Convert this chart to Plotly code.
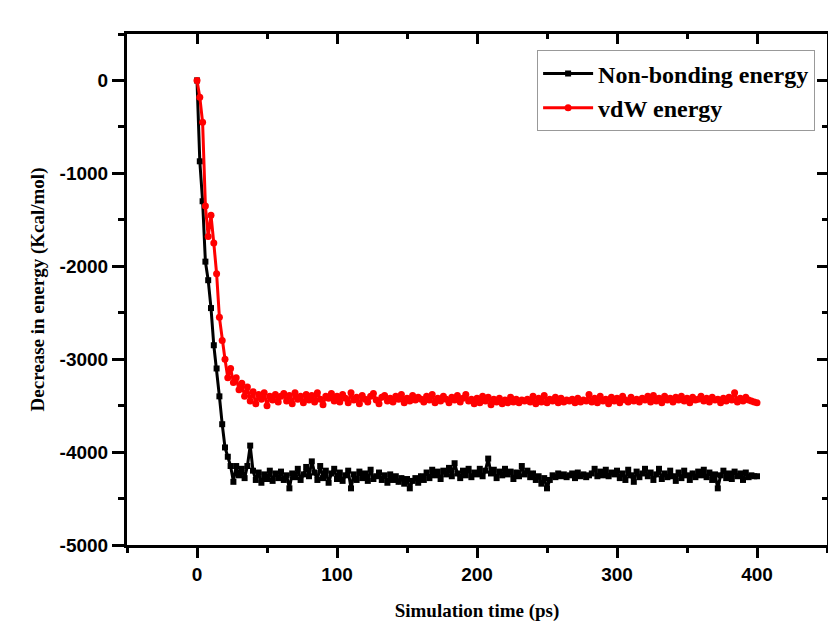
import plotly.graph_objects as go

time_ps = list(range(0, 401, 2))

nonbonding = [
    0, -870, -1300, -1950, -2150, -2450, -2850, -3100, -3400, -3700,
    -3950, -4050, -4150, -4320, -4150, -4250, -4180, -4280, -4150, -3930,
    -4200, -4300, -4220, -4330, -4240, -4290, -4200, -4310, -4230, -4280,
    -4210, -4300, -4250, -4390, -4230, -4270, -4180, -4300, -4240, -4160,
    -4260, -4100, -4220, -4300, -4150, -4280, -4200, -4330, -4230, -4180,
    -4290, -4220, -4310, -4250, -4200, -4390, -4240, -4300, -4210, -4280,
    -4230, -4310, -4190, -4290, -4260, -4220, -4300, -4250, -4330, -4240,
    -4300, -4260, -4320, -4280, -4340, -4290, -4390, -4310, -4280, -4330,
    -4260, -4300, -4220, -4280, -4190, -4250, -4210, -4290, -4200, -4240,
    -4170, -4260, -4120, -4230, -4280, -4200, -4250, -4180, -4270, -4220,
    -4240, -4180, -4260, -4200, -4070, -4230, -4190, -4280, -4210, -4250,
    -4180, -4240, -4210, -4290, -4220, -4260, -4150, -4240, -4200, -4270,
    -4230, -4300, -4260, -4340, -4280, -4390, -4300, -4250, -4270, -4230,
    -4260, -4240, -4270, -4250, -4230, -4280, -4220, -4260, -4240, -4270,
    -4250, -4230, -4180, -4260, -4210, -4250, -4190, -4260, -4220, -4240,
    -4200, -4280, -4230, -4300, -4190, -4250, -4320, -4210, -4270, -4230,
    -4180, -4260, -4220, -4300, -4240, -4180, -4290, -4230, -4270, -4200,
    -4260, -4310, -4220, -4280, -4200, -4250, -4300, -4230, -4270, -4210,
    -4250, -4190, -4270, -4220, -4300, -4240, -4390, -4250, -4200, -4280,
    -4230, -4290, -4210, -4260, -4230, -4300, -4220, -4270, -4250, -4260,
    -4260,
]

vdw = [
    0, -180, -450, -1350, -1680, -1450, -1750, -2080, -2550, -2800,
    -3000, -3200, -3100, -3250, -3200, -3330, -3260, -3400, -3300, -3450,
    -3350, -3480, -3380, -3430, -3360, -3500, -3400, -3440, -3380, -3460,
    -3400, -3370, -3450, -3390, -3480, -3360, -3430, -3400, -3470, -3380,
    -3440, -3390, -3460, -3360, -3430, -3490, -3400, -3420, -3370, -3450,
    -3400, -3460, -3380, -3420, -3470, -3360, -3440, -3410, -3480, -3390,
    -3430, -3460, -3400, -3370, -3440, -3480, -3410, -3390, -3450, -3420,
    -3460, -3400, -3430, -3380, -3470, -3420, -3450, -3390, -3440, -3410,
    -3430, -3460, -3400, -3440, -3380, -3470, -3420, -3450, -3400, -3430,
    -3470, -3410, -3440, -3390, -3460, -3420, -3380, -3450, -3430, -3480,
    -3420, -3470, -3400, -3450, -3410, -3490, -3430, -3460, -3420, -3480,
    -3440, -3470, -3410, -3460, -3430, -3470, -3440, -3450, -3430, -3460,
    -3400, -3480, -3420, -3460, -3390, -3470, -3430, -3450, -3410, -3470,
    -3420, -3460, -3440, -3450, -3430, -3470, -3420, -3460, -3440, -3450,
    -3380, -3460, -3420, -3470, -3400, -3450, -3430, -3480, -3410, -3450,
    -3420, -3470, -3400, -3440, -3460, -3410, -3450, -3430, -3460, -3420,
    -3440, -3400, -3460, -3390, -3450, -3420, -3470, -3400, -3440, -3420,
    -3460, -3410, -3440, -3400, -3450, -3420, -3470, -3410, -3440, -3430,
    -3400, -3450, -3420, -3460, -3410, -3440, -3430, -3470, -3420, -3450,
    -3410, -3440, -3360, -3460, -3420, -3450, -3410, -3440, -3450, -3460,
    -3470,
]

x_tickvals = [0, 100, 200, 300, 400]
y_tickvals = [0, -1000, -2000, -3000, -4000, -5000]
x_range = [-50, 450]
y_range = [-5000, 500]

fig = go.Figure()
fig.add_trace(go.Scatter(
    x=time_ps, y=nonbonding, name="Non-bonding energy",
    mode="lines+markers",
    line=dict(color="black", width=3),
    marker=dict(symbol="square", size=6, color="black"),
))
fig.add_trace(go.Scatter(
    x=time_ps, y=vdw, name="vdW energy",
    mode="lines+markers",
    line=dict(color="#ff0000", width=3),
    marker=dict(symbol="circle", size=7, color="#ff0000"),
))
# empty trace so the mirrored top/right frame axes get drawn
fig.add_trace(go.Scatter(
    x=[None], y=[None], xaxis="x2", yaxis="y2",
    showlegend=False, hoverinfo="skip", mode="markers",
))

tickfont = dict(family="Liberation Sans", size=19, color="black", weight="bold")
titlefont = dict(family="Liberation Serif", size=19, color="black", weight="bold")

fig.update_layout(
    width=828, height=628,
    margin=dict(l=127, r=1, t=34, b=83),
    paper_bgcolor="white", plot_bgcolor="white",
    showlegend=True,
    legend=dict(
        x=0.983, y=0.968, xanchor="right", yanchor="top",
        bordercolor="#999999", borderwidth=1, bgcolor="white",
        font=dict(family="Liberation Serif", size=24, color="black", weight="bold"),
        itemwidth=50, tracegroupgap=0,
    ),
    xaxis=dict(
        range=x_range, tickvals=x_tickvals, ticktext=[str(v) for v in x_tickvals],
        showgrid=False, zeroline=False,
        showline=True, linecolor="black", linewidth=3,
        ticks="outside", ticklen=10, tickwidth=3, tickcolor="black",
        minor=dict(dtick=50, tick0=0, ticks="outside", ticklen=5, tickwidth=3,
                   tickcolor="black", showgrid=False),
        tickfont=tickfont,
        title=dict(text="Simulation time (ps)", font=titlefont, standoff=20),
    ),
    yaxis=dict(
        range=y_range, tickvals=y_tickvals, ticktext=[str(v) for v in y_tickvals],
        showgrid=False, zeroline=False,
        showline=True, linecolor="black", linewidth=3,
        ticks="outside", ticklen=12, tickwidth=3, tickcolor="black",
        minor=dict(dtick=500, tick0=0, ticks="outside", ticklen=6, tickwidth=3,
                   tickcolor="black", showgrid=False),
        tickfont=tickfont,
        title=dict(text="Decrease in energy (Kcal/mol)", font=titlefont, standoff=10),
    ),
    xaxis2=dict(
        overlaying="x", side="top", range=x_range, tickvals=x_tickvals,
        showticklabels=False, showgrid=False, zeroline=False,
        showline=True, linecolor="black", linewidth=3,
        ticks="inside", ticklen=10, tickwidth=3, tickcolor="black",
        minor=dict(dtick=50, tick0=0, ticks="inside", ticklen=5, tickwidth=3,
                   tickcolor="black", showgrid=False),
    ),
    yaxis2=dict(
        overlaying="y", side="right", range=y_range, tickvals=y_tickvals,
        showticklabels=False, showgrid=False, zeroline=False,
        showline=True, linecolor="black", linewidth=3,
        ticks="inside", ticklen=10, tickwidth=3, tickcolor="black",
        minor=dict(dtick=500, tick0=0, ticks="inside", ticklen=5, tickwidth=3,
                   tickcolor="black", showgrid=False),
    ),
)

fig.write_html(
    "out.html",
    config={"displayModeBar": False},
    post_script="document.body.style.margin='0';document.body.style.overflow='hidden';",
)
